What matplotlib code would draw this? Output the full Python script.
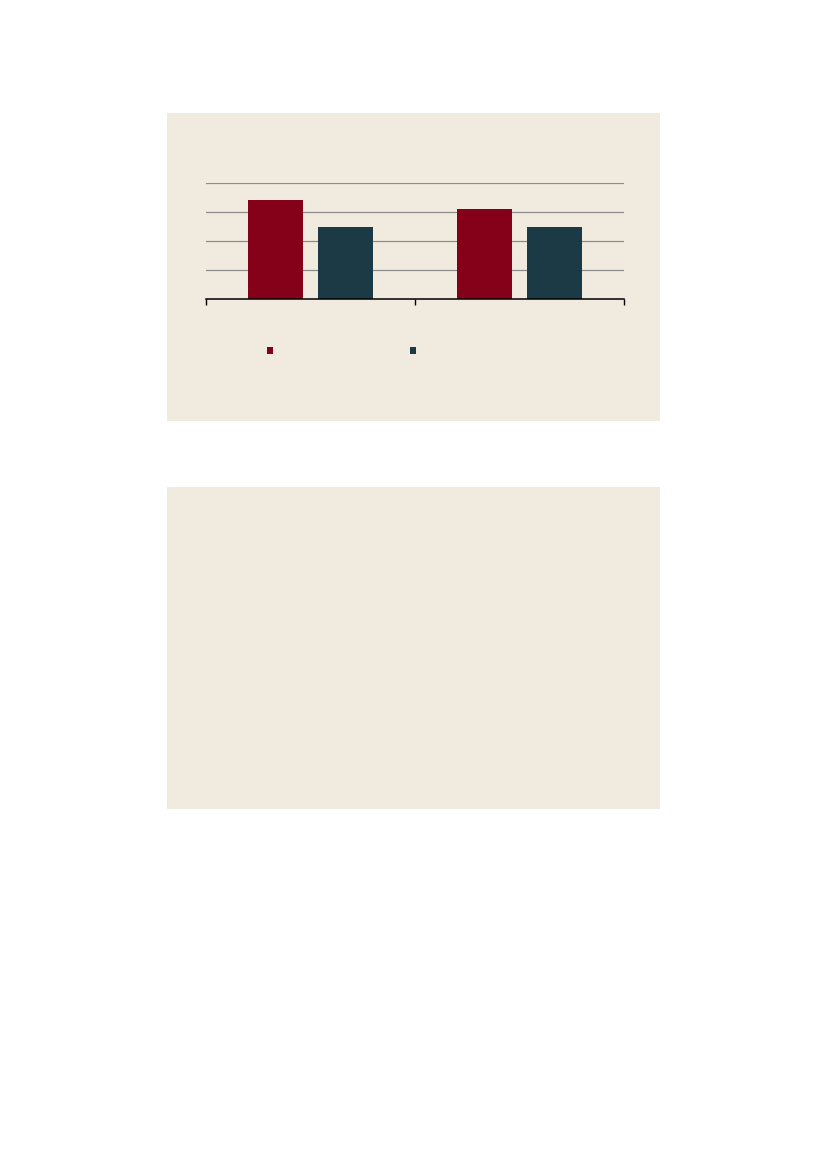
import matplotlib
matplotlib.use("Agg")
import matplotlib.pyplot as plt
from matplotlib.patches import Rectangle, Patch
import numpy as np

# Data
categories = ["", ""]
series_names = ["", ""]
series_a = [3.4, 3.1]
series_b = [2.5, 2.5]
colors = ["#850019", "#1B3A46"]
bg = "#F1EADF"

fig = plt.figure(figsize=(8.27, 11.69), dpi=100)
fig.patch.set_facecolor("white")

# Panel backgrounds
fig.patches.append(Rectangle((167/827, 1-421/1169), 493/827, 308/1169,
                             transform=fig.transFigure, facecolor=bg, edgecolor="none", zorder=-5))
fig.patches.append(Rectangle((167/827, 1-809/1169), 493/827, 322/1169,
                             transform=fig.transFigure, facecolor=bg, edgecolor="none", zorder=-5))

ax = fig.add_axes([206/827, 1-299/1169, 418/827, 116/1169])
ax.set_facecolor("none")
x = np.arange(len(categories))
w = 0.265
off = 0.168
ax.bar(x - off, series_a, width=w, color=colors[0], zorder=3)
ax.bar(x + off, series_b, width=w, color=colors[1], zorder=3)
ax.set_xlim(-0.5, len(categories) - 0.5)
ax.set_ylim(0, 4)
ax.set_yticks([1, 2, 3, 4])
ax.yaxis.grid(True, color="#8C8C8C", linewidth=0.9, zorder=1)
ax.set_axisbelow(True)
ax.tick_params(axis="y", length=0, labelleft=False)
ax.set_xticks([-0.5, 0.5, 1.5])
ax.tick_params(axis="x", direction="out", length=4, width=1, color="black", labelbottom=False)
for s in ["top", "right", "left"]:
    ax.spines[s].set_visible(False)
ax.spines["bottom"].set_color("black")
ax.spines["bottom"].set_linewidth(1.1)
ax.spines["bottom"].set_zorder(4)

handles = [Patch(facecolor=colors[0], edgecolor="none"), Patch(facecolor=colors[1], edgecolor="none")]
leg = fig.legend(handles, series_names, ncol=2, loc="center left",
                 bbox_to_anchor=(267/827, 1-351/1169), frameon=False,
                 fontsize=10, handlelength=0.4, handleheight=0.4,
                 handletextpad=0.0, columnspacing=9.9, borderpad=0, borderaxespad=0)

fig.savefig("out.png", dpi=100, facecolor=fig.get_facecolor())
